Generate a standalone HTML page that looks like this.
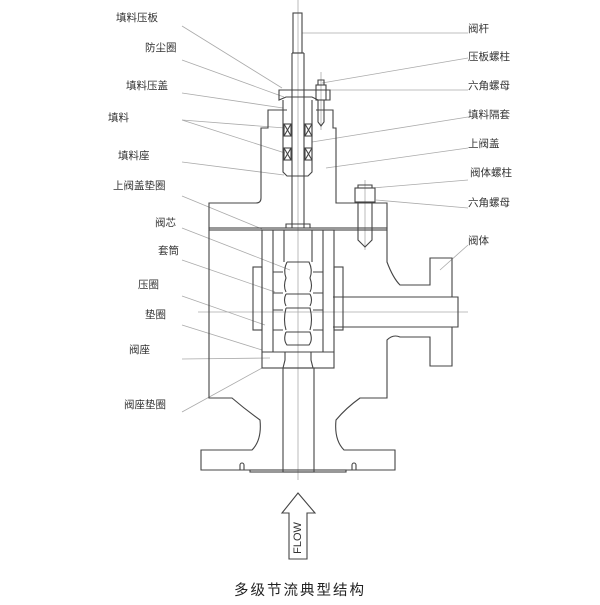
<!DOCTYPE html>
<html><head><meta charset="utf-8"><style>
html,body{margin:0;padding:0;background:#fff;}
svg{display:block}
text{font-family:"Liberation Sans","Noto Sans CJK SC",sans-serif;font-size:10.5px;fill:#333}
</style></head><body>
<svg width="600" height="605" viewBox="0 0 600 605" xmlns="http://www.w3.org/2000/svg">
<g stroke="#aaa" stroke-width="0.8" fill="none">
<!-- centerlines -->
<line x1="298" y1="0" x2="298" y2="480"/>
<line x1="198" y1="312" x2="468" y2="312"/>
<line x1="365" y1="180" x2="365" y2="250"/>
<line x1="321" y1="72" x2="321" y2="130"/>
<!-- left leaders -->
<line x1="182" y1="26" x2="282" y2="88"/>
<line x1="182" y1="60" x2="284" y2="97"/>
<line x1="182" y1="93" x2="283" y2="108"/>
<line x1="182" y1="120" x2="285" y2="128"/>
<line x1="182" y1="120" x2="285" y2="153"/>
<line x1="182" y1="162" x2="284" y2="175"/>
<line x1="182" y1="196" x2="262" y2="229"/>
<line x1="182" y1="228" x2="290" y2="270"/>
<line x1="182" y1="260" x2="275" y2="292"/>
<line x1="182" y1="296" x2="265" y2="325"/>
<line x1="182" y1="325" x2="262" y2="350"/>
<line x1="182" y1="359" x2="270" y2="358"/>
<line x1="182" y1="412" x2="262" y2="368"/>
<!-- right leaders -->
<line x1="302" y1="33" x2="468" y2="33"/>
<line x1="322" y1="83" x2="468" y2="58"/>
<line x1="328" y1="90" x2="468" y2="90"/>
<line x1="312" y1="142" x2="468" y2="117"/>
<line x1="326" y1="168" x2="468" y2="148"/>
<line x1="372" y1="188" x2="468" y2="180"/>
<line x1="376" y1="200" x2="468" y2="208"/>
<line x1="440" y1="270" x2="468" y2="245"/>
</g>
<g stroke="#444" stroke-width="1.1" fill="none">
<!-- stem -->
<rect x="293" y="13" width="9" height="40"/>
<line x1="292" y1="53" x2="292" y2="228"/>
<line x1="304" y1="53" x2="304" y2="228"/>
<line x1="292" y1="53" x2="304" y2="53"/>
<!-- gland plate -->
<path d="M279 90 H330 V100 H318 L312 97 H286 L279 100 Z"/>
<!-- bonnet -->
<path d="M287 110 H268 V128 H261 V198 Q261 203 256 203 H209 V228 H387 V203 H336 V128 H333 V110 H316"/>
<!-- packing box -->
<path d="M283 100 V172 L287 176 H308 L312 172 V100"/>
<path d="M284 124 L291 136 M291 124 L284 136 M284 148 L291 160 M291 148 L284 160"/>
<path d="M305 124 L312 136 M312 124 L305 136 M305 148 L312 160 M312 148 L305 160"/>
<rect x="284" y="124" width="7" height="12"/><rect x="284" y="148" width="7" height="12"/>
<rect x="305" y="124" width="7" height="12"/><rect x="305" y="148" width="7" height="12"/>
<!-- gland stud -->
<rect x="316" y="85" width="10" height="15"/>
<path d="M318 85 V80 H324 V85 M318 100 V122 L321 126 L324 122 V100"/>
<!-- body stud & nut -->
<rect x="355" y="188" width="20" height="14"/>
<path d="M358 188 V185 H372 V188 M358 202 V240 L365 247 L372 240 V202 M358 228 H372"/>
<!-- body top plate -->
<rect x="209" y="228" width="178" height="2"/>
<path d="M286 228 V224 H310 V228"/>
<!-- body -->
<path d="M209 230 V398 H232 Q246 410 260 420 Q262 440 252 450 H201 V470 H395 V450 H344 Q334 440 336 420 Q346 408 360 398 H387 V340 Q393 334 400 337 H430 V366 H452 V327"/>
<path d="M387 230 V262 Q393 278 400 285 H430 V258 H452 V297"/>
<path d="M333 297 H458 V327 H333"/>
<!-- cage -->
<rect x="262" y="230" width="72" height="138"/>
<line x1="273" y1="230" x2="273" y2="352"/>
<line x1="323" y1="230" x2="323" y2="352"/>
<rect x="253" y="267" width="9" height="63"/>
<rect x="334" y="267" width="9" height="63"/>
<path d="M273 272 H283 M313 272 H323 M273 293 H283 M313 293 H323 M273 310 H283 M313 310 H323 M273 330 H283 M313 330 H323"/>
<!-- plug -->
<path d="M284 230 V262 M312 230 V262"/>
<path d="M287 262 H309 Q313 270 310 278 Q313 286 310 292 M287 262 Q283 270 286 278 Q283 286 286 292 M286 294 H310 M286 294 Q283 300 286 306 M310 294 Q313 300 310 306 M286 308 H310 Q313 320 310 330 M286 308 Q283 320 286 330 M286 332 H310 Q313 340 309 345 H287 Q283 340 286 332"/>
<!-- seat -->
<path d="M262 352 H334 M285 352 V360 L283 368 M311 352 V360 L313 368 M262 368 H334"/>
<!-- lower pipe -->
<rect x="283" y="368" width="31" height="104"/>
<rect x="250" y="470" width="96" height="2"/>
<path d="M240 470 v-5 a2 2 0 0 1 4 0 v5 M352 470 v-5 a2 2 0 0 1 4 0 v5"/>
<!-- flow arrow -->
<path d="M298 493 L315 513 H307 V559 H289 V513 H282 Z"/>
</g>
<text x="298" y="538" transform="rotate(-90 298 538)" text-anchor="middle" dominant-baseline="central" style="font-size:11px;fill:#333">FLOW</text>
<g>
<text x="116" y="21">填料压板</text>
<text x="145" y="51">防尘圈</text>
<text x="126" y="89">填料压盖</text>
<text x="108" y="121">填料</text>
<text x="118" y="159">填料座</text>
<text x="113" y="189">上阀盖垫圈</text>
<text x="155" y="226">阀芯</text>
<text x="158" y="254">套筒</text>
<text x="138" y="288">压圈</text>
<text x="145" y="318">垫圈</text>
<text x="129" y="353">阀座</text>
<text x="124" y="408">阀座垫圈</text>
<text x="468" y="32">阀杆</text>
<text x="468" y="60">压板螺柱</text>
<text x="468" y="89">六角螺母</text>
<text x="468" y="118">填料隔套</text>
<text x="468" y="147">上阀盖</text>
<text x="470" y="176">阀体螺柱</text>
<text x="468" y="206">六角螺母</text>
<text x="468" y="244">阀体</text>
</g>
<text x="300" y="595" text-anchor="middle" style="font-size:14.5px;letter-spacing:2px;fill:#222">多级节流典型结构</text>
</svg>
</body></html>
